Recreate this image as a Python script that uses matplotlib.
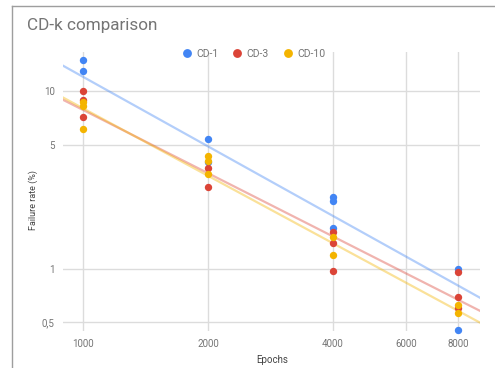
import matplotlib.pyplot as plt
from matplotlib.lines import Line2D

plt.rcParams['font.family'] = ['Roboto', 'DejaVu Sans']

series_names = ['CD-1', 'CD-3', 'CD-10']
colors = ['#4285F4', '#DB4437', '#F4B400']

# measured points (epochs, failure rate %)
cd1_epochs = [1000, 1000, 2000, 2000, 4000, 4000, 4000, 8000, 8000]
cd1_rate = [15.0, 13.0, 5.4, 4.0, 2.53, 2.39, 1.69, 1.0, 0.45]

cd3_epochs = [1000, 1000, 1000, 2000, 2000, 4000, 4000, 4000, 8000, 8000, 8000]
cd3_rate = [10.0, 8.9, 7.1, 3.7, 2.9, 1.6, 1.4, 0.97, 0.96, 0.69, 0.60]

cd10_epochs = [1000, 1000, 1000, 2000, 2000, 2000, 4000, 4000, 8000, 8000]
cd10_rate = [8.7, 8.2, 6.15, 4.28, 4.06, 3.4, 1.5, 1.19, 0.62, 0.56]

# trendline ends as drawn in the chart
trend_epochs = [895, 9040]
cd1_trend = [13.9, 0.685]
cd3_trend = [8.93, 0.578]
cd10_trend = [9.2, 0.496]

x_ticks = [1000, 2000, 4000, 6000, 8000]
y_ticks = [0.5, 1, 5, 10]
y_tick_labels = ['0,5', '1', '5', '10']

fig = plt.figure(figsize=(4.95, 3.68), dpi=100)
ax = fig.add_axes([0.1273, 0.1005, 0.8424, 0.7582])

points = [(cd1_epochs, cd1_rate), (cd3_epochs, cd3_rate), (cd10_epochs, cd10_rate)]
trends = [cd1_trend, cd3_trend, cd10_trend]

for (ex, rate), trend, color in zip(points, trends, colors):
    ax.plot(trend_epochs, trend, color=color, alpha=0.4, lw=1.6, zorder=2)
for (ex, rate), color, name in zip(points, colors, series_names):
    ax.plot(ex, rate, 'o', color=color, ms=5.3, mew=0, label=name, zorder=3, clip_on=False)

ax.set_xscale('log')
ax.set_yscale('log')
ax.set_xlim(895, 9040)
ax.set_ylim(0.445, 16.6)
ax.set_xticks(x_ticks)
ax.set_xticklabels([str(t) for t in x_ticks])
ax.set_yticks(y_ticks)
ax.set_yticklabels(y_tick_labels)
ax.minorticks_off()
ax.tick_params(length=0, labelsize=7, colors='#757575', pad=6)
ax.grid(True, color='#dcdcdc', lw=1)
ax.set_axisbelow(True)
for s in ax.spines.values():
    s.set_visible(False)

fig.text(0.549, 0.022, 'Epochs', ha='center', va='center', fontsize=7, color='#444444')
fig.text(0.0667, 0.4565, 'Failure rate (%)', ha='center', va='center', rotation=90,
         fontsize=6.5, color='#444444')
fig.text(0.0545, 0.918, 'CD-k comparison', ha='left', va='baseline', fontsize=12.3, color='#757575')

ax.legend(loc='center', bbox_to_anchor=(0.512, 0.853), bbox_transform=fig.transFigure,
          ncol=3, frameon=False, fontsize=7.5, labelcolor='#757575', handletextpad=0.4,
          columnspacing=1.3, handlelength=1.0, markerscale=1.2)

# chart border
fig.add_artist(Line2D([0.0248, 0.0248], [0, 0.9837], color='#9e9e9e', lw=1))
fig.add_artist(Line2D([0.0248, 1], [0.9837, 0.9837], color='#9e9e9e', lw=1))

plt.savefig('out.png', dpi=100)
plt.close()
